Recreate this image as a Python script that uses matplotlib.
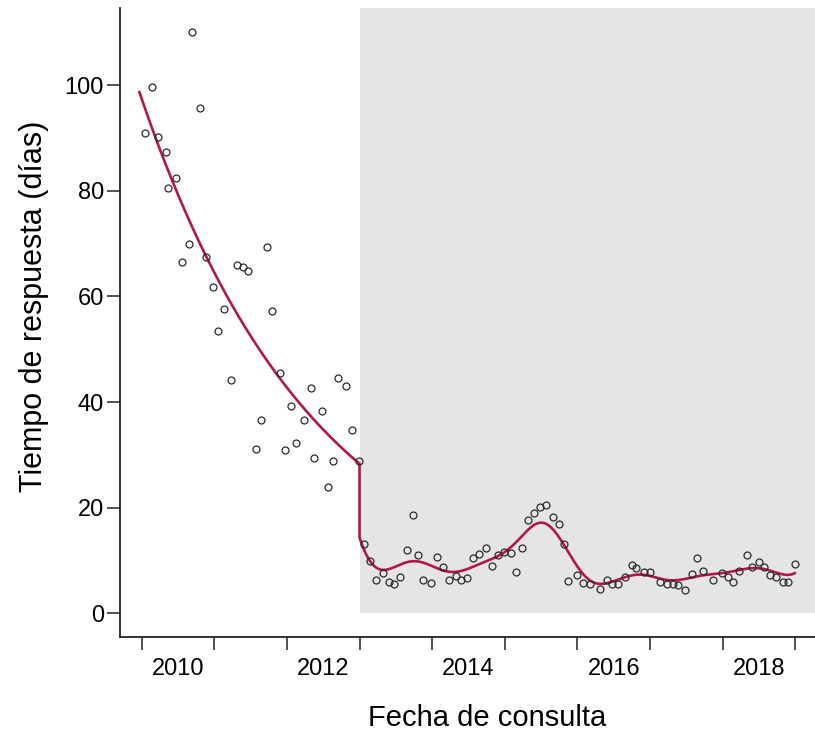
import numpy as np
import matplotlib.pyplot as plt

plt.rcParams['font.family'] = ['Liberation Sans', 'DejaVu Sans']

# monthly response times (days)
fecha_1 = [2010.04, 2010.14, 2010.23, 2010.33, 2010.37, 2010.48, 2010.56, 2010.65, 2010.70,
           2010.81, 2010.88, 2010.98, 2011.05, 2011.13, 2011.23, 2011.31, 2011.39, 2011.47,
           2011.57, 2011.65, 2011.72, 2011.80, 2011.90, 2011.98, 2012.05, 2012.13, 2012.23,
           2012.33, 2012.38, 2012.48, 2012.56, 2012.64, 2012.71, 2012.81, 2012.89, 2012.99]
dias_1 = [90.9, 99.6, 90.2, 87.3, 80.5, 82.4, 66.5, 69.9, 110.0,
          95.6, 67.4, 61.7, 53.4, 57.6, 44.1, 65.9, 65.5, 64.8,
          31.2, 36.6, 69.3, 57.2, 45.5, 30.9, 39.2, 32.2, 36.6,
          42.6, 29.5, 38.4, 23.9, 28.8, 44.5, 43.0, 34.7, 28.8]

fecha_2 = [2013.06, 2013.15, 2013.23, 2013.32, 2013.41, 2013.48, 2013.56, 2013.65, 2013.74,
           2013.81, 2013.88, 2013.99, 2014.07, 2014.15, 2014.23, 2014.33, 2014.40, 2014.48,
           2014.56, 2014.65, 2014.74, 2014.82, 2014.91, 2014.99, 2015.08, 2015.15, 2015.24,
           2015.32, 2015.40, 2015.49, 2015.57, 2015.67, 2015.75, 2015.82, 2015.87, 2015.99,
           2016.08, 2016.17, 2016.31, 2016.40, 2016.47, 2016.56, 2016.65, 2016.75, 2016.81,
           2016.91, 2017.00, 2017.13, 2017.23, 2017.32, 2017.39, 2017.48, 2017.57, 2017.64,
           2017.73, 2017.86, 2017.99, 2018.07, 2018.14, 2018.22, 2018.33, 2018.40, 2018.50,
           2018.57, 2018.65, 2018.74, 2018.83, 2018.90, 2018.99]
dias_2 = [13.2, 10.0, 6.4, 7.6, 5.9, 5.6, 6.8, 11.9, 18.6,
          11.0, 6.4, 5.7, 10.7, 8.8, 6.4, 7.0, 6.4, 6.6,
          10.5, 11.3, 12.3, 8.9, 11.0, 11.7, 11.4, 7.8, 12.4,
          17.7, 19.0, 20.1, 20.5, 18.2, 16.9, 13.2, 6.1, 7.2,
          5.7, 5.6, 4.7, 6.3, 5.6, 5.6, 6.9, 9.1, 8.5,
          7.8, 7.8, 5.9, 5.6, 5.6, 5.3, 4.4, 7.5, 10.4,
          8.0, 6.3, 7.6, 6.9, 5.9, 8.1, 11.0, 8.8, 9.7,
          8.8, 7.2, 6.9, 5.9, 5.9, 9.4]

corte = 2013.0
year_ticks = list(range(2010, 2020))
label_years = [2010, 2012, 2014, 2016, 2018]


def suaviza(x, y, xg, sigma, grado):
    # local polynomial fit with a gaussian kernel
    x = np.asarray(x); y = np.asarray(y)
    out = []
    for x0 in xg:
        w = np.sqrt(np.exp(-0.5 * ((x - x0) / sigma) ** 2))
        A = np.vstack([(x - x0) ** p for p in range(grado + 1)]).T
        beta = np.linalg.lstsq(A * w[:, None], y * w, rcond=None)[0]
        out.append(beta[0])
    return np.array(out)


g1 = np.linspace(fecha_1[0] - 0.07, corte, 200)
g2 = np.linspace(corte, fecha_2[-1], 400)
# first period: exponential decay (linear fit on log scale)
coef = np.polyfit(fecha_1, np.log(dias_1), 1)
s1 = np.exp(np.polyval(coef, g1))
s2 = suaviza(fecha_2, dias_2, g2, 0.33, 2)

fig = plt.figure(figsize=(8.15, 7.34), dpi=100)
ax = fig.add_axes([0.147, 0.132, 0.853, 0.857])

ax.axvspan(corte, 2030, color='#e5e5e5', lw=0, zorder=0)
ax.set_xlim(2009.70, 2019.27)
ax.set_ylim(-4.5, 114.6)
# grey band starts at y = 0
ax.fill_between([corte, 2030], -4.5, 0, color='white', lw=0, zorder=0.5)

ax.plot(np.r_[g1, g2], np.r_[s1, s2], color='#b3164b', lw=1.9, zorder=2)
ax.plot(fecha_1 + fecha_2, dias_1 + dias_2, 'o', ms=5, mfc='none', mec='#2a2a2a',
        mew=0.9, zorder=3)

ax.spines['top'].set_visible(False)
ax.spines['right'].set_visible(False)
for s in ['left', 'bottom']:
    ax.spines[s].set_linewidth(1.3)
    ax.spines[s].set_color('#222222')

ax.set_xticks(year_ticks)
ax.set_xticklabels([])
ax.set_xticks([y + 0.5 for y in label_years], minor=True)
ax.set_xticklabels([str(y) for y in label_years], minor=True)
ax.tick_params(axis='x', which='major', length=9.5, width=1.1, color='#222222')
ax.tick_params(axis='x', which='minor', length=0, pad=15, labelsize=17)
ax.set_yticks([0, 20, 40, 60, 80, 100])
ax.tick_params(axis='y', length=9.5, width=1.1, color='#222222', labelsize=17, pad=2)

ax.set_xlabel('Fecha de consulta', fontsize=21)
ax.xaxis.set_label_coords(0.528, -0.107)
ax.set_ylabel('Tiempo de respuesta (días)', fontsize=22)
ax.yaxis.set_label_coords(-0.102, 0.526)

fig.savefig('out.png', dpi=100)
